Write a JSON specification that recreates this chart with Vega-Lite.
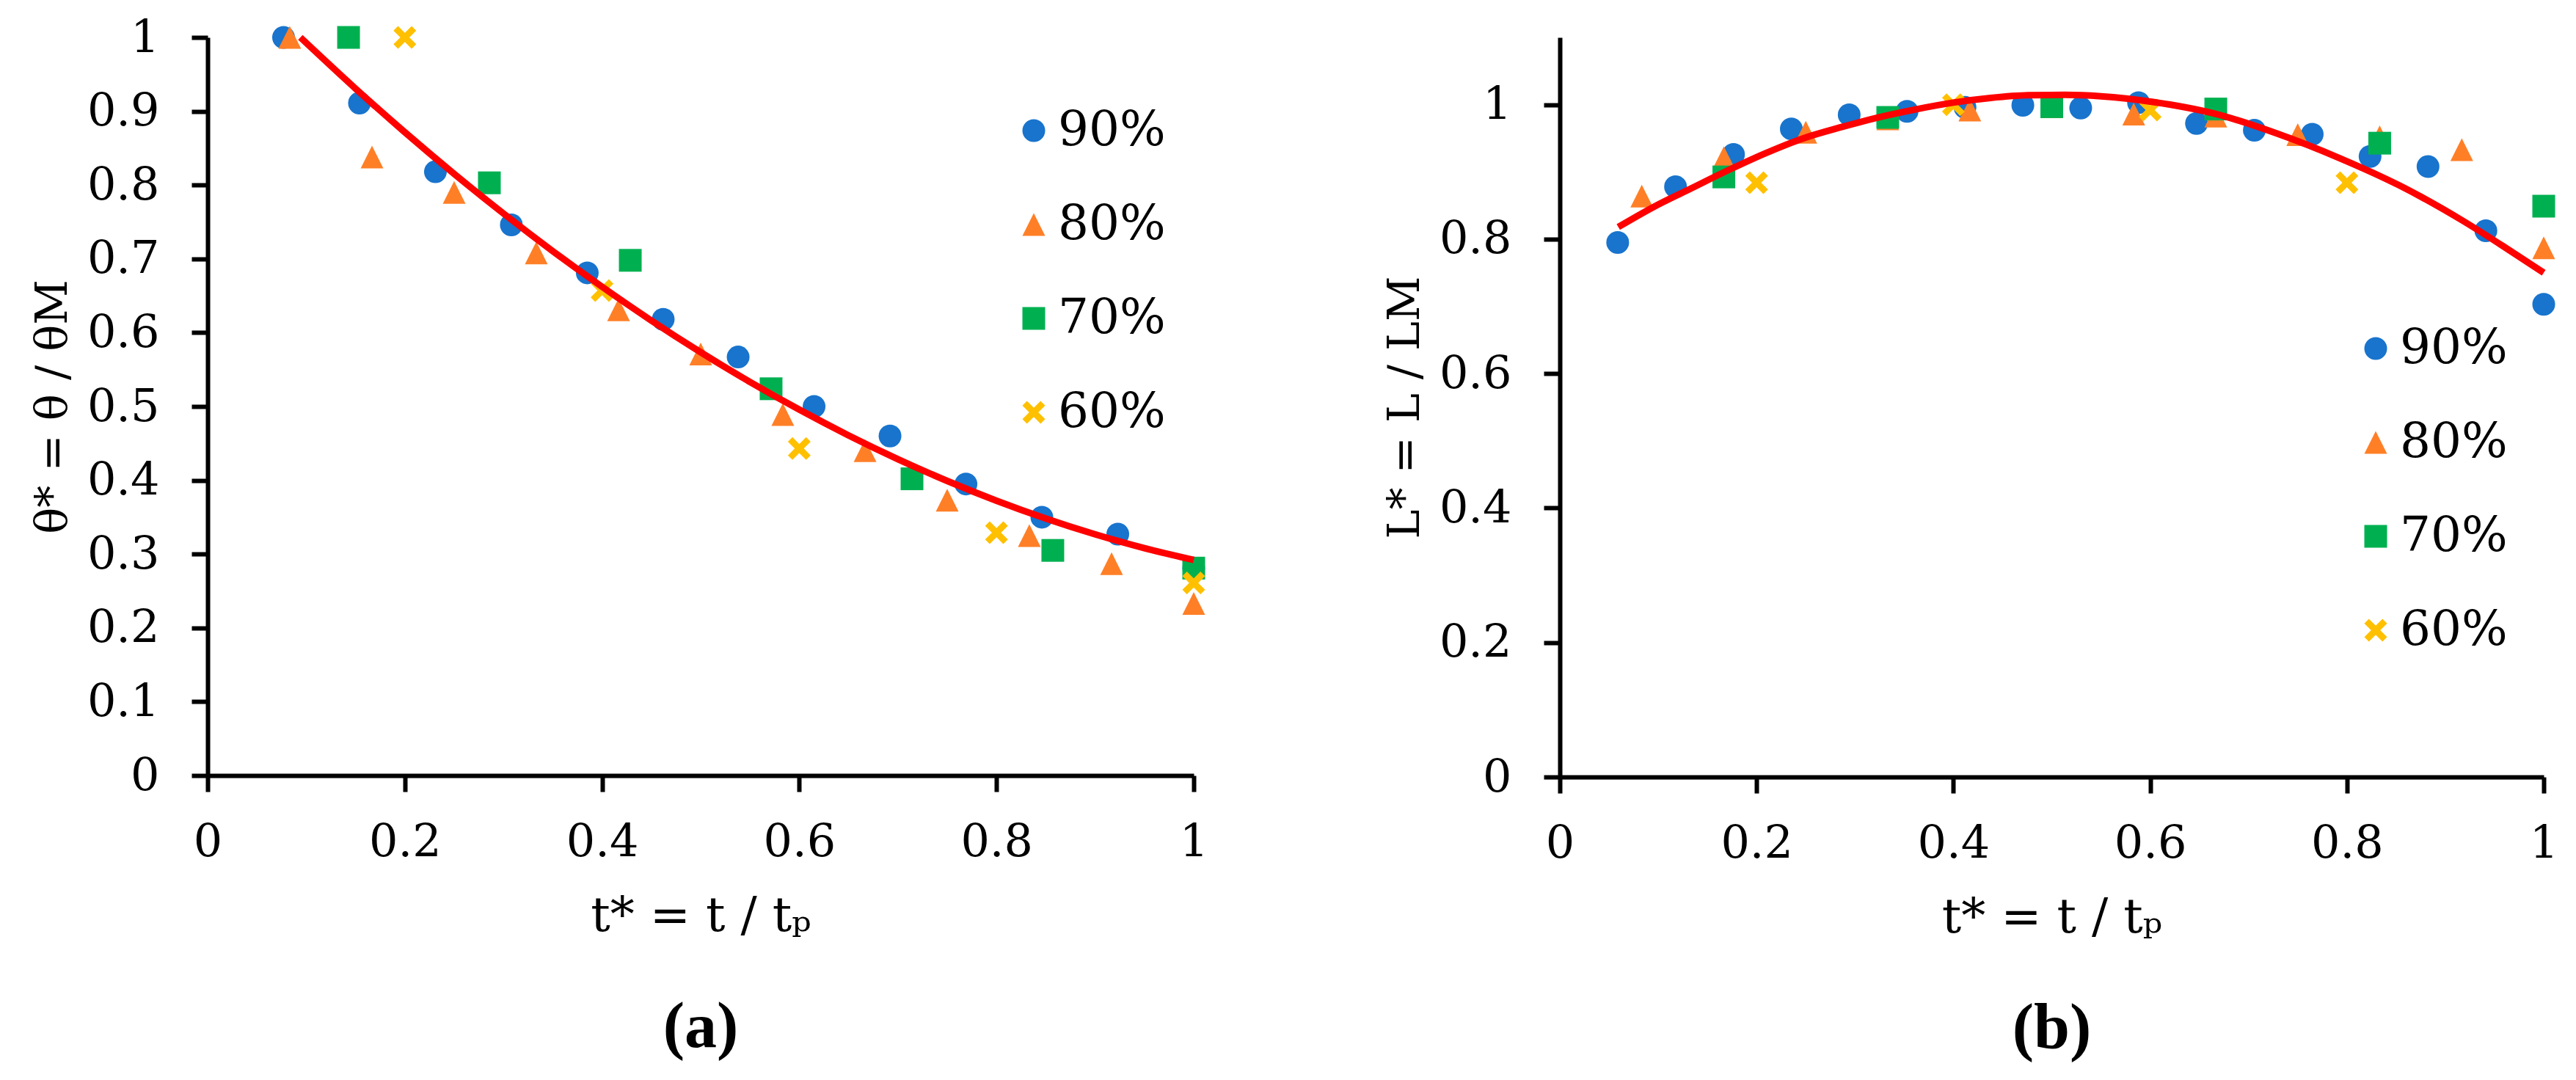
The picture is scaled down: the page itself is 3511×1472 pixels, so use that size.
{
  "$schema": "https://vega.github.io/schema/vega-lite/v6.json",
  "background": "white",
  "padding": {"left": 42, "top": 20, "right": 5, "bottom": 5},
  "bounds": "flush",
  "spacing": 499,
  "config": {
    "view": {"stroke": null},
    "axis": {
      "grid": false,
      "domainColor": "black", "domainWidth": 6,
      "tickColor": "black", "tickWidth": 6, "tickSize": 22,
      "labelFont": "DejaVu Serif", "labelFontSize": 62, "labelColor": "black",
      "labelFlush": false, "labelOverlap": false, "labelBound": false,
      "titleFont": "DejaVu Serif", "titleFontSize": 66, "titleFontWeight": "normal", "titleColor": "black"
    },
    "axisX": {"labelPadding": 38, "titlePadding": 38},
    "axisY": {"labelPadding": 44, "titleX": -180, "titleFontSize": 60},
    "title": {"font": "Liberation Serif", "fontSize": 88, "fontWeight": "bold", "color": "black"}
  },
  "resolve": {
    "scale": {"color": "independent", "shape": "independent"},
    "legend": {"color": "independent", "shape": "independent"}
  },
  "datasets": {
    "pa": [
      {"series": "90%", "t": 0.077, "v": 1.0},
      {"series": "90%", "t": 0.154, "v": 0.911},
      {"series": "90%", "t": 0.231, "v": 0.818},
      {"series": "90%", "t": 0.308, "v": 0.746},
      {"series": "90%", "t": 0.385, "v": 0.681},
      {"series": "90%", "t": 0.462, "v": 0.618},
      {"series": "90%", "t": 0.538, "v": 0.567},
      {"series": "90%", "t": 0.615, "v": 0.5},
      {"series": "90%", "t": 0.692, "v": 0.46},
      {"series": "90%", "t": 0.769, "v": 0.395},
      {"series": "90%", "t": 0.846, "v": 0.35},
      {"series": "90%", "t": 0.923, "v": 0.327},
      {"series": "90%", "t": 1.0, "v": 0.281},
      {"series": "80%", "t": 0.0833, "v": 1.0},
      {"series": "80%", "t": 0.1667, "v": 0.838},
      {"series": "80%", "t": 0.25, "v": 0.79},
      {"series": "80%", "t": 0.3333, "v": 0.708},
      {"series": "80%", "t": 0.4167, "v": 0.631},
      {"series": "80%", "t": 0.5, "v": 0.571},
      {"series": "80%", "t": 0.5833, "v": 0.489},
      {"series": "80%", "t": 0.6667, "v": 0.44},
      {"series": "80%", "t": 0.75, "v": 0.373},
      {"series": "80%", "t": 0.8333, "v": 0.325},
      {"series": "80%", "t": 0.9167, "v": 0.287},
      {"series": "80%", "t": 1.0, "v": 0.233},
      {"series": "70%", "t": 0.1429, "v": 1.0},
      {"series": "70%", "t": 0.2857, "v": 0.803},
      {"series": "70%", "t": 0.4286, "v": 0.698},
      {"series": "70%", "t": 0.5714, "v": 0.524},
      {"series": "70%", "t": 0.7143, "v": 0.402},
      {"series": "70%", "t": 0.8571, "v": 0.305},
      {"series": "70%", "t": 1.0, "v": 0.281},
      {"series": "60%", "t": 0.2, "v": 1.0},
      {"series": "60%", "t": 0.4, "v": 0.657},
      {"series": "60%", "t": 0.6, "v": 0.443},
      {"series": "60%", "t": 0.8, "v": 0.329},
      {"series": "60%", "t": 1.0, "v": 0.261}
    ],
    "fa": [
      {"t": 0.094, "v": 1.0},
      {"t": 0.15, "v": 0.9306},
      {"t": 0.2, "v": 0.8715},
      {"t": 0.25, "v": 0.8151},
      {"t": 0.3, "v": 0.7614},
      {"t": 0.35, "v": 0.7104},
      {"t": 0.4, "v": 0.6621},
      {"t": 0.45, "v": 0.6164},
      {"t": 0.5, "v": 0.5735},
      {"t": 0.55, "v": 0.5332},
      {"t": 0.6, "v": 0.4957},
      {"t": 0.65, "v": 0.4608},
      {"t": 0.7, "v": 0.4286},
      {"t": 0.75, "v": 0.3991},
      {"t": 0.8, "v": 0.3723},
      {"t": 0.85, "v": 0.3482},
      {"t": 0.9, "v": 0.3268},
      {"t": 0.95, "v": 0.308},
      {"t": 1.0, "v": 0.292}
    ],
    "pb": [
      {"series": "90%", "t": 0.0588, "v": 0.795},
      {"series": "90%", "t": 0.1176, "v": 0.878},
      {"series": "90%", "t": 0.1765, "v": 0.926},
      {"series": "90%", "t": 0.2353, "v": 0.964},
      {"series": "90%", "t": 0.2941, "v": 0.985},
      {"series": "90%", "t": 0.3529, "v": 0.99},
      {"series": "90%", "t": 0.4118, "v": 0.996},
      {"series": "90%", "t": 0.4706, "v": 0.999},
      {"series": "90%", "t": 0.5294, "v": 0.995},
      {"series": "90%", "t": 0.5882, "v": 1.003},
      {"series": "90%", "t": 0.6471, "v": 0.972},
      {"series": "90%", "t": 0.7059, "v": 0.962},
      {"series": "90%", "t": 0.7647, "v": 0.956},
      {"series": "90%", "t": 0.8235, "v": 0.923},
      {"series": "90%", "t": 0.8824, "v": 0.908},
      {"series": "90%", "t": 0.9412, "v": 0.8125},
      {"series": "90%", "t": 1.0, "v": 0.703},
      {"series": "80%", "t": 0.0833, "v": 0.864},
      {"series": "80%", "t": 0.1667, "v": 0.921},
      {"series": "80%", "t": 0.25, "v": 0.959},
      {"series": "80%", "t": 0.3333, "v": 0.979},
      {"series": "80%", "t": 0.4167, "v": 0.992},
      {"series": "80%", "t": 0.5, "v": 0.997},
      {"series": "80%", "t": 0.5833, "v": 0.986},
      {"series": "80%", "t": 0.6667, "v": 0.983},
      {"series": "80%", "t": 0.75, "v": 0.9555},
      {"series": "80%", "t": 0.8333, "v": 0.952},
      {"series": "80%", "t": 0.9167, "v": 0.933},
      {"series": "80%", "t": 1.0, "v": 0.787},
      {"series": "70%", "t": 0.1667, "v": 0.8925},
      {"series": "70%", "t": 0.3333, "v": 0.981},
      {"series": "70%", "t": 0.5, "v": 0.997},
      {"series": "70%", "t": 0.6667, "v": 0.9935},
      {"series": "70%", "t": 0.8333, "v": 0.9427},
      {"series": "70%", "t": 1.0, "v": 0.849},
      {"series": "60%", "t": 0.2, "v": 0.884},
      {"series": "60%", "t": 0.4, "v": 1.0},
      {"series": "60%", "t": 0.6, "v": 0.992},
      {"series": "60%", "t": 0.8, "v": 0.884}
    ],
    "fb": [
      {"t": 0.0594, "v": 0.818},
      {"t": 0.0955, "v": 0.848},
      {"t": 0.1335, "v": 0.8755},
      {"t": 0.1715, "v": 0.9027},
      {"t": 0.2095, "v": 0.928},
      {"t": 0.2476, "v": 0.95},
      {"t": 0.2856, "v": 0.9664},
      {"t": 0.3236, "v": 0.981},
      {"t": 0.3617, "v": 0.993},
      {"t": 0.3997, "v": 1.003},
      {"t": 0.4377, "v": 1.01},
      {"t": 0.4758, "v": 1.014},
      {"t": 0.5138, "v": 1.0145},
      {"t": 0.55, "v": 1.0125},
      {"t": 0.603, "v": 1.004},
      {"t": 0.6662, "v": 0.9864},
      {"t": 0.729, "v": 0.957},
      {"t": 0.7917, "v": 0.921},
      {"t": 0.8545, "v": 0.879},
      {"t": 0.917, "v": 0.828},
      {"t": 0.964, "v": 0.7845},
      {"t": 1.0, "v": 0.75}
    ]
  },
  "hconcat": [
    {
      "width": 1344,
      "height": 1006,
      "title": {"text": "(a)", "orient": "bottom", "anchor": "middle", "offset": 76},
      "layer": [
        {
          "data": {"name": "pa"},
          "mark": {"type": "point", "filled": true, "opacity": 1, "size": 961, "strokeWidth": 0},
          "encoding": {
            "x": {"field": "t", "type": "quantitative",
              "scale": {"domain": [0, 1], "nice": false, "zero": false},
              "axis": {"title": "t* = t / tₚ", "values": [0, 0.2, 0.4, 0.6, 0.8, 1], "format": "~g"}},
            "y": {"field": "v", "type": "quantitative",
              "scale": {"domain": [0, 1], "nice": false, "zero": false},
              "axis": {"title": "θ* = θ / θM", "values": [0, 0.1, 0.2, 0.3, 0.4, 0.5, 0.6, 0.7, 0.8, 0.9, 1], "format": "~g"}},
            "color": {"field": "series", "type": "nominal",
              "scale": {"domain": ["90%", "80%", "70%", "60%"], "range": ["#1874CD", "#FF7F27", "#00B050", "#FFC000"]},
              "legend": {"orient": "none", "legendX": 1093, "legendY": 94, "title": null, "padding": 0,
                "labelFont": "DejaVu Serif", "labelFontSize": 66, "labelColor": "black", "labelLimit": 500,
                "symbolSize": 961, "rowPadding": 62, "labelOffset": 0, "symbolStrokeWidth": 0, "symbolOpacity": 1}},
            "shape": {"field": "series", "type": "nominal",
              "scale": {"domain": ["90%", "80%", "70%", "60%"], "range": ["circle", "M0,-1L1,1L-1,1Z", "square", "M-1,-0.6L-0.6,-1L0,-0.4L0.6,-1L1,-0.6L0.4,0L1,0.6L0.6,1L0,0.4L-0.6,1L-1,0.6L-0.4,0Z"]},
              "legend": {"orient": "none", "legendX": 1093, "legendY": 94, "title": null, "padding": 0,
                "labelFont": "DejaVu Serif", "labelFontSize": 66, "labelColor": "black", "labelLimit": 500,
                "symbolSize": 961, "rowPadding": 62, "labelOffset": 0, "symbolStrokeWidth": 0, "symbolOpacity": 1}}
          }
        },
        {
          "data": {"name": "fa"},
          "mark": {"type": "line", "color": "#FF0000", "strokeWidth": 9, "interpolate": "monotone"},
          "encoding": {
            "x": {"field": "t", "type": "quantitative"},
            "y": {"field": "v", "type": "quantitative"}
          }
        }
      ]
    },
    {
      "width": 1341,
      "height": 1008,
      "title": {"text": "(b)", "orient": "bottom", "anchor": "middle", "offset": 76},
      "layer": [
        {
          "data": {"name": "pb"},
          "mark": {"type": "point", "filled": true, "opacity": 1, "size": 961, "strokeWidth": 0},
          "encoding": {
            "x": {"field": "t", "type": "quantitative",
              "scale": {"domain": [0, 1], "nice": false, "zero": false},
              "axis": {"title": "t* = t / tₚ", "values": [0, 0.2, 0.4, 0.6, 0.8, 1], "format": "~g"}},
            "y": {"field": "v", "type": "quantitative",
              "scale": {"domain": [0, 1.1], "nice": false, "zero": false},
              "axis": {"title": "L* = L / LM", "values": [0, 0.2, 0.4, 0.6, 0.8, 1], "format": "~g"}},
            "color": {"field": "series", "type": "nominal",
              "scale": {"domain": ["90%", "80%", "70%", "60%"], "range": ["#1874CD", "#FF7F27", "#00B050", "#FFC000"]},
              "legend": {"orient": "none", "legendX": 1079, "legendY": 391, "title": null, "padding": 0,
                "labelFont": "DejaVu Serif", "labelFontSize": 66, "labelColor": "black", "labelLimit": 500,
                "symbolSize": 961, "rowPadding": 62, "labelOffset": 0, "symbolStrokeWidth": 0, "symbolOpacity": 1}},
            "shape": {"field": "series", "type": "nominal",
              "scale": {"domain": ["90%", "80%", "70%", "60%"], "range": ["circle", "M0,-1L1,1L-1,1Z", "square", "M-1,-0.6L-0.6,-1L0,-0.4L0.6,-1L1,-0.6L0.4,0L1,0.6L0.6,1L0,0.4L-0.6,1L-1,0.6L-0.4,0Z"]},
              "legend": {"orient": "none", "legendX": 1079, "legendY": 391, "title": null, "padding": 0,
                "labelFont": "DejaVu Serif", "labelFontSize": 66, "labelColor": "black", "labelLimit": 500,
                "symbolSize": 961, "rowPadding": 62, "labelOffset": 0, "symbolStrokeWidth": 0, "symbolOpacity": 1}}
          }
        },
        {
          "data": {"name": "fb"},
          "mark": {"type": "line", "color": "#FF0000", "strokeWidth": 9, "interpolate": "monotone"},
          "encoding": {
            "x": {"field": "t", "type": "quantitative"},
            "y": {"field": "v", "type": "quantitative"}
          }
        }
      ]
    }
  ]
}
